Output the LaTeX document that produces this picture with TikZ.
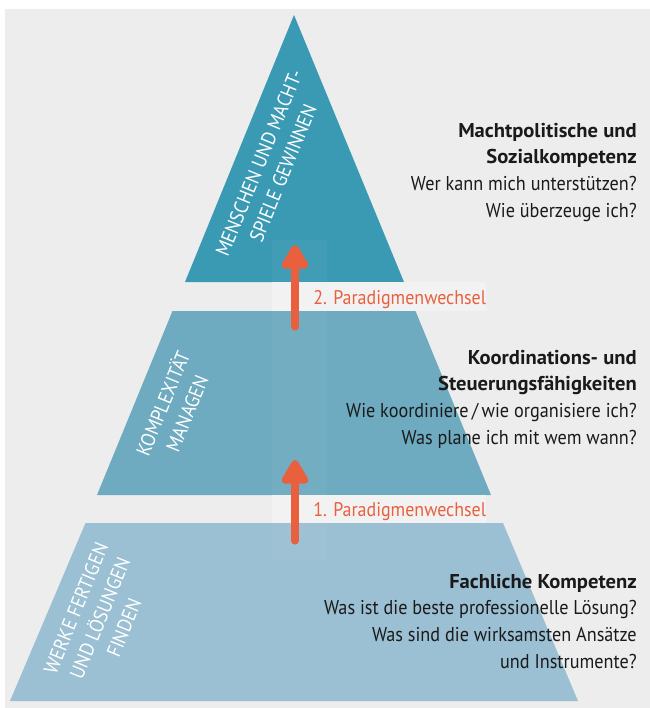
\documentclass[tikz,border=0pt]{standalone}
\usepackage{fontspec}
\setmainfont{PT Sans}[FakeStretch=0.91, BoldFeatures={FakeStretch=1.03}]
\usetikzlibrary{arrows.meta}
\definecolor{bgray}{HTML}{EDEDED}
\definecolor{gaplight}{HTML}{F2F2F2}
\definecolor{layerA}{HTML}{3A9AB3}
\definecolor{layerB}{HTML}{6EABC0}
\definecolor{layerC}{HTML}{9BC0D3}
\definecolor{accent}{HTML}{E8603E}
\definecolor{ink}{HTML}{1A1A1A}
\tikzset{
  layerlabel/.style={text=white, align=center, rotate=67.8, inner sep=0pt,
    font=\fontsize{15pt}{19.5pt}\selectfont},
  sidetext/.style={text=ink, align=right, anchor=north east, inner sep=0pt,
    font=\fontsize{15pt}{20pt}\selectfont},
  shiftlabel/.style={text=accent, anchor=base west, inner sep=0pt,
    font=\fontsize{14.8pt}{18pt}\selectfont},
  shiftarrow/.style={draw=accent, line width=5.3pt, line cap=round,
    -{Triangle[width=22.5pt,length=20.5pt,round=false]}},
}
\begin{document}
\begin{tikzpicture}[x=0.75pt,y=-0.75pt]
\useasboundingbox (0,0) rectangle (650,708);
\fill[white] (0,0) rectangle (650,708);
\fill[bgray] (5,9) rectangle (650,708);

% three layers of the pyramid
\fill[layerA] (294,15) -- (404,282) -- (185,282) -- cycle;
\fill[layerB] (172.5,311) -- (415.5,311) -- (491,495) -- (97,495) -- cycle;
\fill[layerC] (85.5,523) -- (503,523) -- (578,701) -- (10,701) -- cycle;

% lighter strips behind the arrows and the shift labels
\fill[white,opacity=0.03] (272,240) rectangle (327,560);
\fill[gaplight] (272,282) rectangle (486,311);
\fill[gaplight] (272,495) rectangle (486,523);

% labels inside the layers
\node[layerlabel] (lt) at (271,168) {MENSCHEN UND MACHT-\\SPIELE GEWINNEN};
\node[layerlabel] (lm) at (174,408) {KOMPLEXITÄT\\MANAGEN};
\node[layerlabel] (lb) at (100,618) {WERKE FERTIGEN\\UND LÖSUNGEN\\FINDEN};

% paradigm shift arrows
\coordinate (s2) at (295,327);
\coordinate (t2) at (295,245);
\coordinate (s1) at (295,541);
\coordinate (t1) at (295,460);
\draw[shiftarrow] (s2) -- (t2);
\draw[shiftarrow] (s1) -- (t1);
\node[shiftlabel] (p2) at (313,304) {2. Paradigmenwechsel};
\node[shiftlabel] (p1) at (313,516) {1. Paradigmenwechsel};

% competences on the right
\node[sidetext] (c3) at (637,122.6) {\textbf{Machtpolitische und}\\\textbf{Sozialkompetenz}\\Wer kann mich unterstützen?\\Wie überzeuge ich?};
\node[sidetext] (c2) at (637,349.6) {\textbf{Koordinations- und}\\\textbf{Steuerungsfähigkeiten}\\Wie koordiniere\,/\,wie organisiere ich?\\Was plane ich mit wem wann?};
\node[sidetext] (c1) at (637,573.6) {\textbf{Fachliche Kompetenz}\\Was ist die beste professionelle Lösung?\\Was sind die wirksamsten Ansätze\\und Instrumente?};
\end{tikzpicture}
\end{document}
